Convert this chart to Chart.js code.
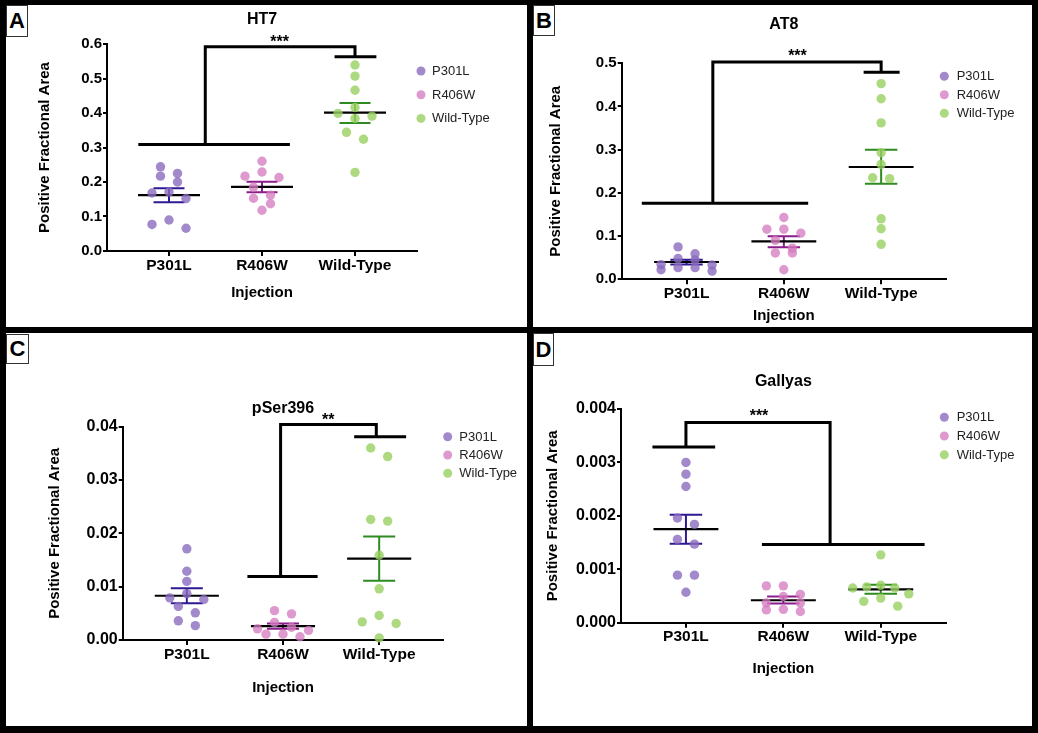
<!DOCTYPE html>
<html>
<head>
<meta charset="utf-8">
<script src="https://cdn.jsdelivr.net/npm/chart.js@4.4.0/dist/chart.umd.min.js"></script>
<style>
  body { margin: 0; background: #000; width: 1038px; height: 733px; position: relative; overflow: hidden; }
  .panel { position: absolute; background: #fff; }
  .panel canvas { position: absolute; left: 0; top: 0; }
  .tag { position: absolute; background: #fff; border: 1px solid #333; box-sizing: border-box;
         font: bold 22px "Liberation Sans", Arial, sans-serif; color: #000;
         display: flex; align-items: center; justify-content: center; }
</style>
</head>
<body>
<div class="panel" style="left:6px;top:5px;width:521px;height:322px"><canvas id="cA" width="521" height="322"></canvas></div>
<div class="panel" style="left:533px;top:5px;width:499px;height:322px"><canvas id="cB" width="499" height="322"></canvas></div>
<div class="panel" style="left:6px;top:333px;width:521px;height:393px"><canvas id="cC" width="521" height="393"></canvas></div>
<div class="panel" style="left:533px;top:333px;width:499px;height:393px"><canvas id="cD" width="499" height="393"></canvas></div>
<div class="tag" style="left:6px;top:5px;width:22px;height:32px">A</div>
<div class="tag" style="left:533px;top:5px;width:22px;height:31px">B</div>
<div class="tag" style="left:6px;top:334px;width:23px;height:30px">C</div>
<div class="tag" style="left:533px;top:333px;width:21px;height:33px">D</div>

<script>
const groups = ["P301L", "R406W", "Wild-Type"];

// HT7
const ht7P301L = [0.244, 0.225, 0.217, 0.200, 0.171, 0.168, 0.152, 0.090, 0.077, 0.066];
const ht7R406W = [0.260, 0.229, 0.217, 0.213, 0.185, 0.162, 0.153, 0.137, 0.118];
const ht7WT = [0.539, 0.507, 0.466, 0.416, 0.399, 0.391, 0.384, 0.344, 0.324, 0.228];
const ht7Mean = [0.162, 0.186, 0.401];
const ht7SemHi = [0.182, 0.201, 0.429];
const ht7SemLo = [0.141, 0.170, 0.371];
const ht7Ticks = [0, 0.1, 0.2, 0.3, 0.4, 0.5, 0.6];

// AT8
const at8P301L = [0.075, 0.059, 0.048, 0.045, 0.034, 0.033, 0.027, 0.027, 0.022, 0.019];
const at8R406W = [0.143, 0.116, 0.116, 0.107, 0.090, 0.072, 0.061, 0.061, 0.022];
const at8WT = [0.453, 0.418, 0.362, 0.293, 0.266, 0.235, 0.233, 0.140, 0.117, 0.081];
const at8Mean = [0.040, 0.0876, 0.260];
const at8SemHi = [0.045, 0.0995, 0.300];
const at8SemLo = [0.034, 0.074, 0.221];
const at8Ticks = [0, 0.1, 0.2, 0.3, 0.4, 0.5];

// pSer396
const pserP301L = [0.0171, 0.0129, 0.0110, 0.0087, 0.0079, 0.0076, 0.0063, 0.0051, 0.0036, 0.0027];
const pserR406W = [0.0055, 0.0049, 0.0033, 0.0024, 0.0021, 0.0018, 0.0011, 0.0011, 0.0006];
const pserWT = [0.0360, 0.0344, 0.0226, 0.0223, 0.0159, 0.0096, 0.0046, 0.0034, 0.0031, 0.0004];
const pserMean = [0.0083, 0.0026, 0.01525];
const pserSemHi = [0.0097, 0.0031, 0.0194];
const pserSemLo = [0.0069, 0.0021, 0.0111];
const pserTicks = [0, 0.01, 0.02, 0.03, 0.04];

// Gallyas
const galP301L = [0.00300, 0.00278, 0.00255, 0.00196, 0.00184, 0.00156, 0.00147, 0.00089, 0.00089, 0.00057];
const galR406W = [0.00069, 0.00069, 0.00053, 0.00049, 0.00037, 0.00037, 0.00025, 0.00024, 0.00021];
const galWT = [0.00127, 0.00070, 0.00067, 0.00065, 0.00065, 0.00054, 0.00046, 0.00040, 0.00031];
const galMean = [0.00175, 0.00042, 0.000623];
const galSemHi = [0.00202, 0.00049, 0.00071];
const galSemLo = [0.00148, 0.00036, 0.00054];
const galTicks = [0, 0.001, 0.002, 0.003, 0.004];

const dotColors = ["rgba(138,108,190,0.80)", "rgba(212,122,190,0.76)", "rgba(152,208,96,0.80)"];
const semColors = ["#2f1a94", "#8b1c8b", "#2f8a22"];
const FONT = "'Liberation Sans', Arial, sans-serif";
Chart.defaults.font.family = FONT;
Chart.defaults.color = "#000";

// lays out the dots of one column in centred rows, like a scatter dot plot
function swarm(values, center, uX, uY) {
  const rowH = 9, gap = 17, maxW = 56;
  const order = values.map((v, i) => i).sort((a, b) => values[b] - values[a]);
  const rows = [];
  order.forEach(i => {
    const row = rows[rows.length - 1];
    if (row && (values[row[0]] - values[i]) / uY < rowH) row.push(i);
    else rows.push([i]);
  });
  const xs = [];
  rows.forEach(row => {
    const n = row.length;
    const g = n > 1 ? Math.min(gap, maxW / (n - 1)) : 0;
    const slots = row.map((_, k) => k - (n - 1) / 2).sort((a, b) => Math.abs(a) - Math.abs(b) || a - b);
    row.forEach((i, k) => { xs[i] = center + slots[k] * g * uX; });
  });
  return values.map((v, i) => ({ x: xs[i], y: v }));
}

const panels = [
  {
    canvas: "cA", title: "HT7", stars: "***", starsAt: [2.19, 0.603],
    values: [ht7P301L, ht7R406W, ht7WT], mean: ht7Mean, hi: ht7SemHi, lo: ht7SemLo,
    ticks: ht7Ticks, decimals: 1, yFont: 15,
    w: 521, h: 322, area: { l: 101, r: 411, t: 39, b: 246 },
    yTitleAt: 39, xTitleAt: 42, titleAt: 15,
    legend: { dot: 4, text: 15, y0: 27, gap: 23.7 },
    bracket: { left: [0.67, 2.30, 0.309, 1.39], right: [2.78, 3.23, 0.563, 3.0], top: 0.592 }
  },
  {
    canvas: "cB", title: "AT8", stars: "***", starsAt: [2.14, 0.516],
    values: [at8P301L, at8R406W, at8WT], mean: at8Mean, hi: at8SemHi, lo: at8SemLo,
    ticks: at8Ticks, decimals: 1, yFont: 15,
    w: 499, h: 322, area: { l: 88.7, r: 413, t: 58.3, b: 274.3 },
    yTitleAt: 23, xTitleAt: 36.7, titleAt: 20,
    legend: { dot: -1.7, text: 10.7, y0: 13, gap: 18.5 },
    bracket: { left: [0.54, 2.25, 0.176, 1.27], right: [2.82, 3.19, 0.479, 3.0], top: 0.503 }
  },
  {
    canvas: "cC", title: "pSer396", stars: "**", starsAt: [2.47, 0.0411],
    values: [pserP301L, pserR406W, pserWT], mean: pserMean, hi: pserSemHi, lo: pserSemLo,
    ticks: pserTicks, decimals: 2, yFont: 16,
    w: 521, h: 393, area: { l: 116.7, r: 437.3, t: 93.7, b: 307 },
    yTitleAt: 49, xTitleAt: 48.3, titleAt: 75.3,
    legend: { dot: 4.4, text: 16, y0: 10, gap: 18.3 },
    bracket: { left: [1.63, 2.36, 0.0119, 1.975], right: [2.74, 3.28, 0.0381, 2.97], top: 0.0404 }
  },
  {
    canvas: "cD", title: "Gallyas", stars: "***", starsAt: [1.75, 0.00386],
    values: [galP301L, galR406W, galWT], mean: galMean, hi: galSemHi, lo: galSemLo,
    ticks: galTicks, decimals: 3, yFont: 16,
    w: 499, h: 393, area: { l: 88, r: 412.7, t: 76, b: 289.7 },
    yTitleAt: 20.3, xTitleAt: 46.6, titleAt: 48.7,
    legend: { dot: -1.4, text: 11, y0: 8.3, gap: 18.7 },
    bracket: { left: [0.656, 1.30, 0.00329, 1.0], right: [1.78, 3.45, 0.001463, 2.48], top: 0.003747 }
  }
];

const extras = {
  id: "extras",
  afterDraw(chart, args, p) {
    const { ctx, chartArea: a, scales } = chart;
    ctx.save();
    // significance stars
    ctx.font = "bold 16px " + FONT;
    ctx.fillStyle = "#000";
    ctx.textAlign = "center";
    ctx.textBaseline = "middle";
    ctx.fillText(p.stars, scales.x.getPixelForValue(p.starsAt[0]), scales.y.getPixelForValue(p.starsAt[1]));
    // legend
    ctx.font = "13px " + FONT;
    ctx.textAlign = "left";
    groups.forEach((g, i) => {
      const y = a.top + p.legend.y0 + i * p.legend.gap;
      ctx.fillStyle = dotColors[i];
      ctx.beginPath();
      ctx.arc(a.right + p.legend.dot, y, 4.5, 0, Math.PI * 2);
      ctx.fill();
      ctx.fillStyle = "#222";
      ctx.fillText(g, a.right + p.legend.text, y + 0.5);
    });
    ctx.restore();
  }
};

panels.forEach(p => {
  const xMin = 1 / 3, xMax = 11 / 3;
  const yMax = p.ticks[p.ticks.length - 1];
  const uX = (xMax - xMin) / (p.area.r - p.area.l);
  const uY = yMax / (p.area.b - p.area.t);
  const datasets = [];

  groups.forEach((g, i) => {
    datasets.push({
      type: "scatter", label: g, data: swarm(p.values[i], i + 1, uX, uY),
      backgroundColor: dotColors[i], borderWidth: 0, pointRadius: 4.7, order: 0, clip: false
    });
  });

  groups.forEach((g, i) => {
    const c = i + 1;
    datasets.push({
      type: "line", data: [{ x: c - 1 / 3, y: p.mean[i] }, { x: c + 1 / 3, y: p.mean[i] }],
      borderColor: "#000", borderWidth: 2.2, pointRadius: 0, order: 1
    });
    datasets.push({
      type: "line",
      data: [
        { x: c - 1 / 6, y: p.hi[i] }, { x: c + 1 / 6, y: p.hi[i] }, { x: c, y: null },
        { x: c, y: p.hi[i] }, { x: c, y: p.lo[i] }, { x: c, y: null },
        { x: c - 1 / 6, y: p.lo[i] }, { x: c + 1 / 6, y: p.lo[i] }
      ],
      borderColor: semColors[i], borderWidth: 2, pointRadius: 0, order: 2
    });
  });

  const L = p.bracket.left, R = p.bracket.right;
  datasets.push({
    type: "line",
    data: [
      { x: L[0], y: L[2] }, { x: L[1], y: L[2] }, { x: L[3], y: null },
      { x: L[3], y: L[2] }, { x: L[3], y: p.bracket.top }, { x: R[3], y: p.bracket.top }, { x: R[3], y: R[2] },
      { x: R[3], y: null }, { x: R[0], y: R[2] }, { x: R[1], y: R[2] }
    ],
    borderColor: "#000", borderWidth: 3, pointRadius: 0, order: 3, clip: false,
    borderJoinStyle: "miter"
  });

  const xScaleH = p.xTitleAt + 9;

  new Chart(document.getElementById(p.canvas), {
    type: "scatter",
    data: { datasets },
    plugins: [extras],
    options: {
      responsive: false,
      animation: false,
      events: [],
      spanGaps: false,
      layout: { padding: { left: 0, top: 0, right: p.w - p.area.r, bottom: p.h - p.area.b - xScaleH } },
      scales: {
        x: {
          type: "linear", min: xMin, max: xMax,
          afterBuildTicks: s => { s.ticks = [1, 2, 3].map(v => ({ value: v })); },
          afterFit: s => { s.height = xScaleH; },
          ticks: { autoSkip: false, padding: 0, font: { size: 15.5, weight: "bold" }, color: "#000",
                   callback: v => groups[Math.round(v) - 1] },
          grid: { drawOnChartArea: false, drawTicks: true, tickLength: 5, color: "#000", lineWidth: 2 },
          border: { display: true, color: "#000", width: 2 },
          title: { display: true, text: "Injection", font: { size: 15, weight: "bold" }, color: "#000",
                   padding: { top: 0, bottom: 0 } }
        },
        y: {
          min: 0, max: yMax,
          afterBuildTicks: s => { s.ticks = p.ticks.map(v => ({ value: v })); },
          afterFit: s => { s.width = p.area.l; },
          ticks: { padding: 1, font: { size: p.yFont, weight: "bold" }, color: "#000",
                   callback: v => v.toFixed(p.decimals) },
          grid: { drawOnChartArea: false, drawTicks: true, tickLength: 4, color: "#000", lineWidth: 2 },
          border: { display: true, color: "#000", width: 2 },
          title: { display: true, text: "Positive Fractional Area", font: { size: 15, weight: "bold" }, color: "#000",
                   padding: { top: p.yTitleAt - 9, bottom: 0 } }
        }
      },
      plugins: {
        legend: { display: false },
        tooltip: { enabled: false },
        title: {
          display: true, text: p.title, fullSize: false, color: "#000",
          font: { size: 16, weight: "bold" },
          padding: { top: p.titleAt - 9.6, bottom: p.area.t - p.titleAt - 9.6 }
        },
        extras: p
      }
    }
  });
});
</script>
</body>
</html>
